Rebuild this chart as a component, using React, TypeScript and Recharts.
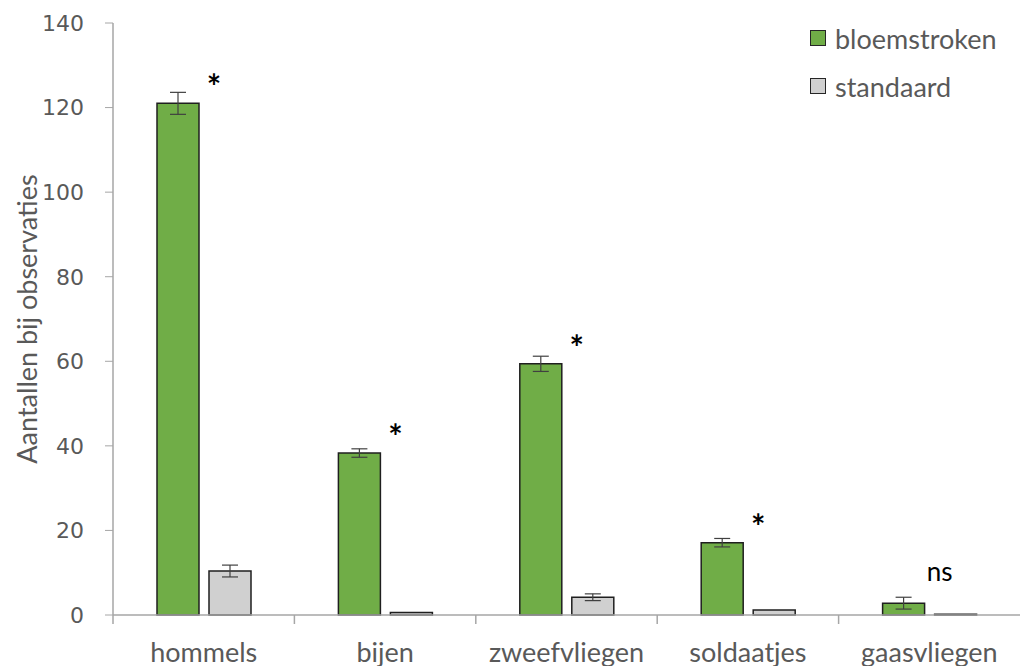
import React from "react";
import { BarChart, Bar, XAxis, YAxis, ErrorBar, LabelList, Legend, Label } from "recharts";

const categories = ["hommels", "bijen", "zweefvliegen", "soldaatjes", "gaasvliegen"];
const bloemstroken = [121, 38.3, 59.4, 17.1, 2.8];
const bloemstrokenErr = [2.6, 1.0, 1.8, 1.0, 1.4];
const standaard = [10.4, 0.6, 4.2, 1.2, 0.2];
const standaardErr = [1.4, 0, 0.8, 0, 0];
const significance = ["*", "*", "*", "*", "ns"];
const yTicks = [0, 20, 40, 60, 80, 100, 120, 140];

const W = 1020;
const H = 666;
const Y_AXIS_W = 113;
const BAND = (W - Y_AXIS_W) / categories.length;
const TEXT = "#595959";
const AXIS = "#a6a6a6";
const FONT = "Lato, 'Open Sans', sans-serif";

const data = categories.map((name, i) => ({
    name,
    bloemstroken: bloemstroken[i],
    bloemErr: bloemstrokenErr[i],
    standaard: standaard[i],
    standErr: standaardErr[i],
    sig: significance[i],
}));

// category labels + tick marks on the band boundaries (like Excel)
const CategoryTick = (props: any) => {
    const { x, y, payload } = props;
    const left = x - BAND / 2;
    return (
        <g>
            <line x1={left} x2={left} y1={y} y2={y + 9} stroke={AXIS} strokeWidth={1.5} />
            <text x={x} y={y + 47} textAnchor="middle" fill={TEXT} fontSize={27} fontFamily={FONT}>
                {payload.value}
            </text>
        </g>
    );
};

const renderSig = (props: any) => {
    const { x, y, width, value } = props;
    const star = value === "*";
    return (
        <text
            x={x + width / 2 + 36}
            y={star ? y - 4 : y - 22}
            textAnchor="middle"
            fontSize={star ? 34 : 26}
            fontWeight={star ? "bold" : "normal"}
            fontFamily={FONT}
            fill="#000"
        >
            {value}
        </text>
    );
};

const renderLegend = (props: any) => {
    const { payload } = props;
    return (
        <div style={{ fontFamily: FONT, fontSize: 27, color: TEXT }}>
            {payload.map((entry: any) => (
                <div key={entry.value} style={{ display: "flex", alignItems: "center", height: 48 }}>
                    <span
                        style={{
                            display: "inline-block",
                            width: 14,
                            height: 14,
                            background: entry.color,
                            border: "1.5px solid #262626",
                            marginRight: 9,
                        }}
                    />
                    {entry.value}
                </div>
            ))}
        </div>
    );
};

export default function App() {
    return (
        <div style={{ position: "absolute", left: 0, top: 0, background: "#fff" }}>
            <BarChart width={W} height={H} data={data} margin={{ top: 23, right: 0, left: 0, bottom: 0 }} barSize={42} barGap={10}>
                <XAxis
                    dataKey="name"
                    height={51}
                    interval={0}
                    axisLine={{ stroke: AXIS, strokeWidth: 1.5 }}
                    tickLine={false}
                    tickSize={0}
                    tickMargin={0}
                    tick={<CategoryTick />}
                />
                <YAxis
                    width={Y_AXIS_W}
                    domain={[0, 140]}
                    ticks={yTicks}
                    interval={0}
                    axisLine={{ stroke: AXIS, strokeWidth: 1.5 }}
                    tickLine={{ stroke: AXIS, strokeWidth: 1 }}
                    tickSize={8}
                    tickMargin={21}
                    tick={{ fill: TEXT, fontSize: 22, fontFamily: "'DejaVu Sans', sans-serif" }}
                >
                    <Label
                        value="Aantallen bij observaties"
                        angle={-90}
                        position="center"
                        dx={-29}
                        fill={TEXT}
                        fontSize={27}
                        fontFamily={FONT}
                    />
                </YAxis>
                <Legend
                    layout="horizontal"
                    verticalAlign="middle"
                    align="center"
                    content={renderLegend}
                    wrapperStyle={{ top: 14, left: 810, width: 210, height: 100 }}
                />
                <Bar dataKey="bloemstroken" name="bloemstroken" fill="#70ad47" stroke="#1f1f1f" strokeWidth={1.5} isAnimationActive={false}>
                    <ErrorBar dataKey="bloemErr" width={8} stroke="#404040" strokeWidth={1.2} />
                    <LabelList dataKey="sig" content={renderSig} />
                </Bar>
                <Bar dataKey="standaard" name="standaard" fill="#d0d0d0" stroke="#1f1f1f" strokeWidth={1.5} isAnimationActive={false}>
                    <ErrorBar dataKey="standErr" width={8} stroke="#404040" strokeWidth={1.2} />
                </Bar>
            </BarChart>
        </div>
    );
}
